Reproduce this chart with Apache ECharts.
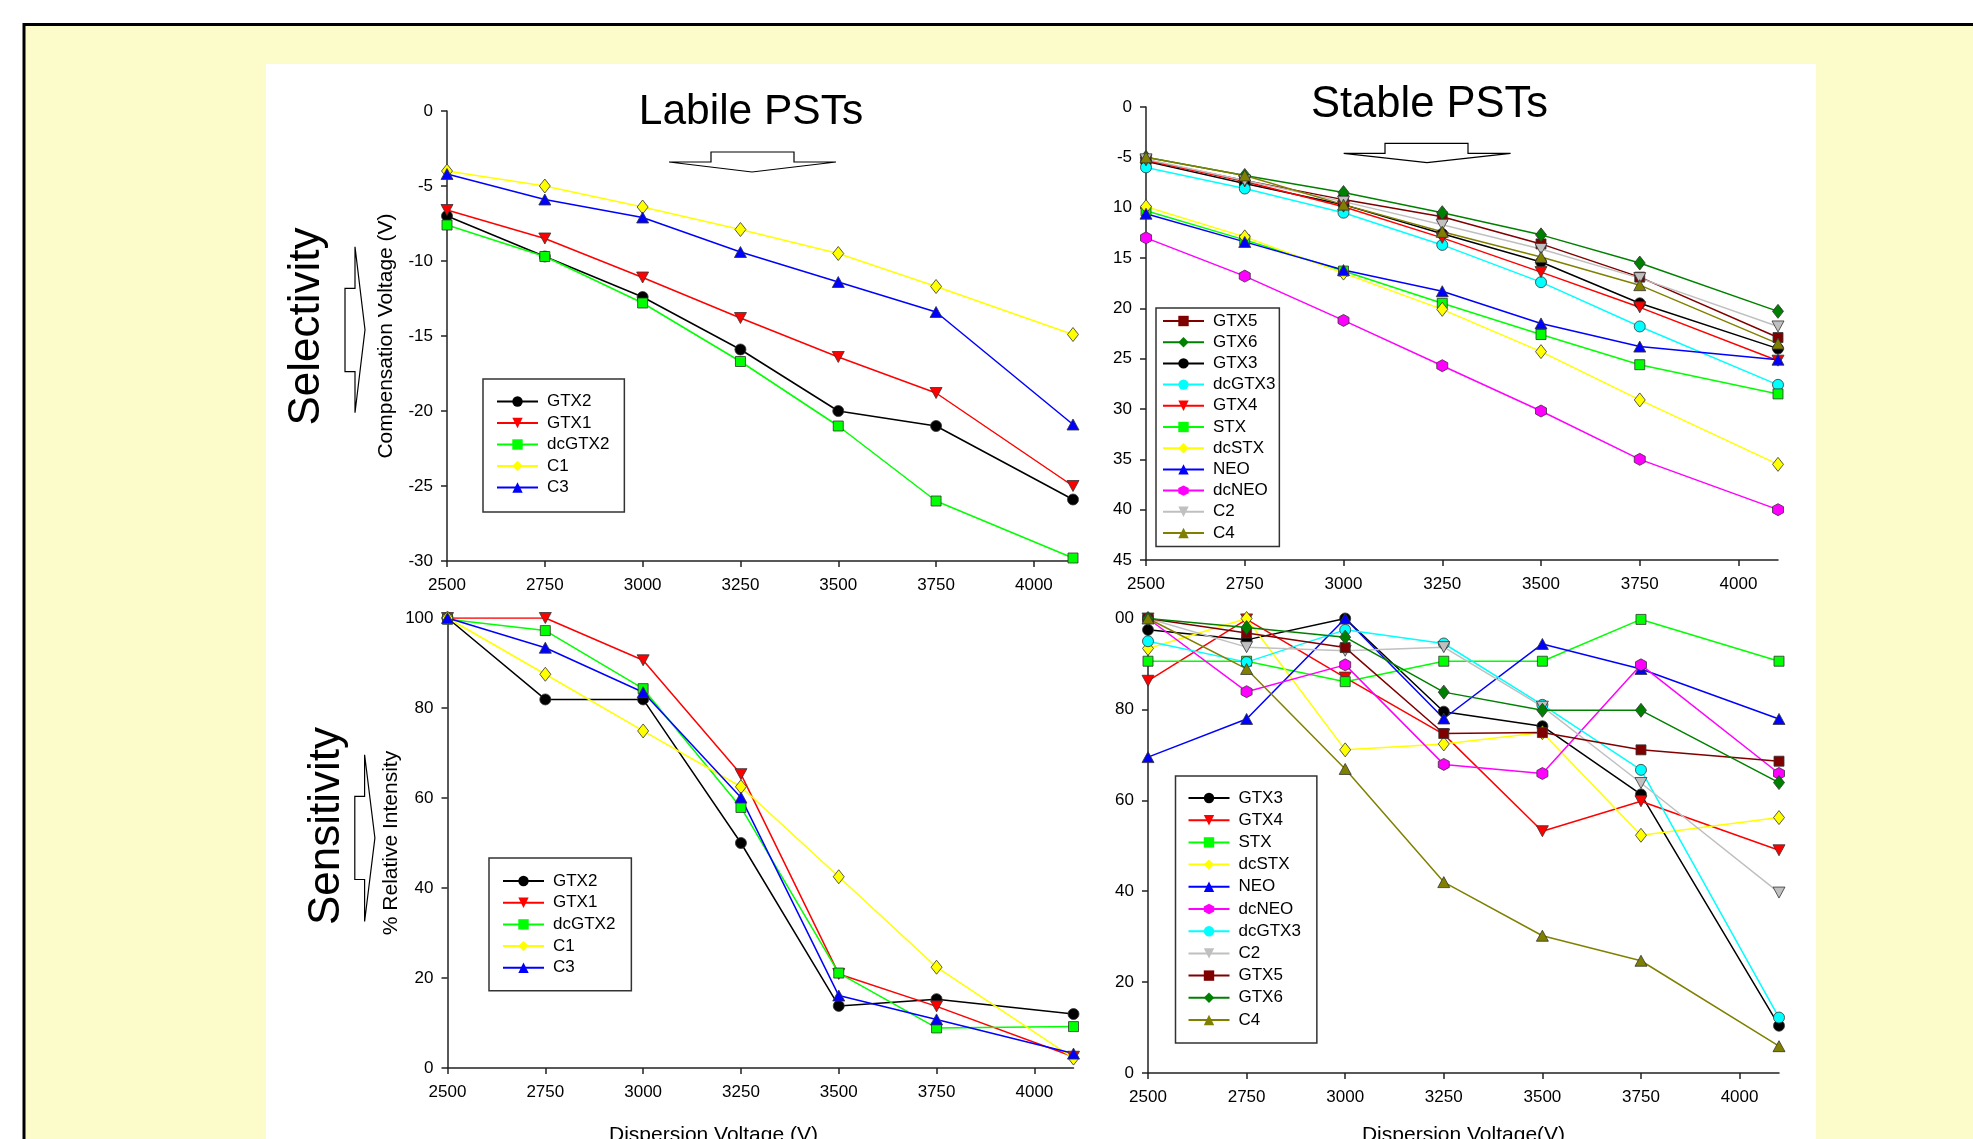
<!DOCTYPE html>
<html>
<head>
<meta charset="utf-8">
<title>Labile and Stable PSTs</title>
<script src="https://cdn.jsdelivr.net/npm/echarts@6/dist/echarts.min.js"></script>
<style>
  html, body { margin: 0; padding: 0; background: #fff; }
  #chart { width: 1973px; height: 1139px; }
</style>
</head>
<body>
<div id="chart"></div>
<script>
// dispersion voltage (V), same for every panel
var volts = [2500, 2750, 3000, 3250, 3500, 3750, 4100];
var voltTicks = [2500, 2750, 3000, 3250, 3500, 3750, 4000];

// y ticks and the labels as they are printed
var cvLabileTicks = [0, -5, -10, -15, -20, -25, -30];
var cvLabileLabels = ['0', '-5', '-10', '-15', '-20', '-25', '-30'];
var cvStableTicks = [0, -5, -10, -15, -20, -25, -30, -35, -40, -45];
var cvStableLabels = ['0', '-5', '10', '15', '20', '25', '30', '35', '40', '45'];
var riTicks = [0, 20, 40, 60, 80, 100];
var riLabileLabels = ['0', '20', '40', '60', '80', '100'];
var riStableLabels = ['0', '20', '40', '60', '80', '00'];

// compensation voltage (V), labile PSTs
var cvGTX2   = [-7.0, -9.7, -12.4, -15.9, -20.0, -21.0, -25.9];
var cvGTX1   = [-6.6, -8.5, -11.1, -13.8, -16.4, -18.8, -25.0];
var cvDcGTX2 = [-7.6, -9.7, -12.8, -16.7, -21.0, -26.0, -29.8];
var cvC1     = [-4.0, -5.0, -6.4, -7.9, -9.5, -11.7, -14.9];
var cvC3     = [-4.2, -5.9, -7.1, -9.4, -11.4, -13.4, -20.9];

// compensation voltage (V), stable PSTs
var cvGTX5   = [-5.3, -7.3, -9.2, -10.9, -13.6, -16.9, -22.9];
var cvGTX6   = [-5.0, -6.8, -8.5, -10.5, -12.7, -15.5, -20.3];
var cvGTX3   = [-5.4, -7.6, -9.7, -12.6, -15.4, -19.5, -24.0];
var cvDcGTX3 = [-6.0, -8.1, -10.5, -13.7, -17.4, -21.8, -27.6];
var cvGTX4   = [-5.3, -7.4, -9.9, -13.0, -16.4, -19.9, -25.2];
var cvSTX    = [-10.3, -13.2, -16.3, -19.5, -22.6, -25.6, -28.5];
var cvDcSTX  = [-9.9, -12.9, -16.5, -20.1, -24.3, -29.1, -35.5];
var cvNEO    = [-10.6, -13.4, -16.2, -18.3, -21.5, -23.8, -25.1];
var cvDcNEO  = [-13.0, -16.8, -21.2, -25.7, -30.2, -35.0, -40.0];
var cvC2     = [-5.2, -7.3, -9.4, -11.7, -14.1, -17.0, -21.8];
var cvC4     = [-5.0, -6.8, -9.7, -12.4, -14.9, -17.7, -23.5];

// % relative intensity, labile PSTs
var riGTX2   = [100, 81.9, 81.9, 50.0, 13.8, 15.3, 12.0];
var riGTX1   = [100, 100, 90.6, 65.3, 20.9, 13.7, 2.5];
var riDcGTX2 = [99.7, 97.2, 84.3, 57.9, 21.1, 8.9, 9.2];
var riC1     = [100, 87.5, 74.9, 62.5, 42.5, 22.4, 2.2];
var riC3     = [100, 93.4, 83.5, 60.1, 16.1, 10.8, 3.2];

// % relative intensity, stable PSTs
var riGTX3   = [97.5, 95.3, 100, 79.5, 76.3, 61.3, 10.4];
var riGTX4   = [86.3, 99.8, 87.0, 74.5, 53.2, 59.8, 49.0];
var riSTX    = [90.6, 90.6, 86.1, 90.6, 90.6, 99.8, 90.6];
var riDcSTX  = [93.4, 100, 71.1, 72.4, 74.9, 52.3, 56.2];
var riNEO    = [69.5, 77.9, 100, 78.0, 94.4, 88.9, 77.9];
var riDcNEO  = [100, 83.9, 89.8, 67.9, 65.9, 89.8, 65.9];
var riDcGTX3 = [95.0, 90.4, 97.5, 94.5, 81.0, 66.7, 12.2];
var riC2     = [100, 93.7, 92.9, 93.7, 80.6, 63.8, 39.7];
var riGTX5   = [100, 96.8, 93.6, 74.7, 74.9, 71.1, 68.6];
var riGTX6   = [100, 98.0, 95.9, 83.8, 79.8, 79.8, 63.9];
var riC4     = [100, 88.9, 66.9, 42.0, 30.2, 24.7, 5.9];

var FONT = '"Liberation Sans", Arial, Helvetica, sans-serif';

var SYM = {
  circle:   ['circle', 11],
  down:     ['path://M0,0L12,0L6,10Z', [12, 11]],
  up:       ['path://M6,0L12,10L0,10Z', [12, 11]],
  rect:     ['rect', 10],
  diamond:  ['diamond', [11, 14]],
  hex:      ['path://M0,-10L8.66,-5L8.66,5L0,10L-8.66,5L-8.66,-5Z', [11, 12]]
};

var look = {
  GTX2:   ['#000000', 'circle'],
  GTX1:   ['#ff0000', 'down'],
  dcGTX2: ['#00ff00', 'rect'],
  C1:     ['#ffff00', 'diamond'],
  C3:     ['#0000ff', 'up'],
  GTX5:   ['#800000', 'rect'],
  GTX6:   ['#008000', 'diamond'],
  GTX3:   ['#000000', 'circle'],
  dcGTX3: ['#00ffff', 'circle'],
  GTX4:   ['#ff0000', 'down'],
  STX:    ['#00ff00', 'rect'],
  dcSTX:  ['#ffff00', 'diamond'],
  NEO:    ['#0000ff', 'up'],
  dcNEO:  ['#ff00ff', 'hex'],
  C2:     ['#c0c0c0', 'down'],
  C4:     ['#808000', 'up']
};

function line(name, values, idx) {
  var c = look[name][0], s = SYM[look[name][1]];
  return {
    name: name,
    type: 'line',
    xAxisIndex: idx,
    yAxisIndex: idx,
    data: values.map(function (v, i) { return [volts[i], v]; }),
    symbol: s[0],
    symbolSize: s[1],
    showAllSymbol: true,
    lineStyle: { color: c, width: 1.5 },
    itemStyle: { color: c, borderColor: '#333', borderWidth: 0.8 },
    emphasis: { disabled: true },
    z: 3
  };
}

var labelFont = { fontFamily: FONT, fontSize: 17, color: '#000' };
var axisCol = '#222';

function xAxis(idx, name, gap, pad) {
  return {
    type: 'value', gridIndex: idx, min: 2500, max: 4100,
    axisLine: { onZero: false, lineStyle: { color: axisCol, width: 1.5 } },
    axisTick: { customValues: voltTicks, length: 6, lineStyle: { color: axisCol, width: 1.5 } },
    axisLabel: Object.assign({
      customValues: voltTicks, margin: 16,
      formatter: function (v) { return String(v); }
    }, labelFont),
    splitLine: { show: false },
    name: name, nameLocation: 'middle', nameGap: gap,
    nameTextStyle: { fontFamily: FONT, fontSize: 21, color: '#000', padding: pad }
  };
}

function yAxis(idx, min, max, ticks, labels, name, gap) {
  return {
    type: 'value', gridIndex: idx, min: min, max: max,
    axisLine: { show: true, onZero: false, lineStyle: { color: axisCol, width: 1.5 } },
    axisTick: { show: true, customValues: ticks, length: 6, lineStyle: { color: axisCol, width: 1.5 } },
    axisLabel: Object.assign({
      customValues: ticks, margin: 14,
      formatter: function (v) { var k = ticks.indexOf(v); return k < 0 ? '' : labels[k]; }
    }, labelFont),
    splitLine: { show: false },
    name: name, nameLocation: 'middle', nameGap: gap,
    nameTextStyle: { fontFamily: FONT, fontSize: 21, color: '#000' }
  };
}

function legend(names, left, top, pad, gap) {
  return {
    data: names, orient: 'vertical', left: left, top: top,
    padding: pad, itemGap: gap, itemWidth: 41, itemHeight: 13,
    borderColor: '#333', borderWidth: 1.5, backgroundColor: '#fff',
    selectedMode: false,
    itemStyle: { borderWidth: 0 },
    textStyle: { fontFamily: FONT, fontSize: 17, lineHeight: 17, color: '#000', padding: [0, 0, 0, 4] }
  };
}

var chart = echarts.init(document.getElementById('chart'), null, { renderer: 'canvas' });

var option = {
  animation: false,
  backgroundColor: '#ffffff',
  grid: [
    { left: 447, top: 111, width: 626, height: 450, outerBoundsMode: 'none' },
    { left: 1146, top: 107, width: 632, height: 453, outerBoundsMode: 'none' },
    { left: 447.5, top: 618, width: 626, height: 450, outerBoundsMode: 'none' },
    { left: 1148, top: 618.5, width: 631, height: 454.5, outerBoundsMode: 'none' }
  ],
  xAxis: [
    xAxis(0, '', 0, 0),
    xAxis(1, '', 0, 0),
    xAxis(2, 'Dispersion Voltage (V)', 57, [0, 94, 0, 0]),
    xAxis(3, 'Dispersion Voltage(V)', 52, 0)
  ],
  yAxis: [
    yAxis(0, -30, 0, cvLabileTicks, cvLabileLabels, 'Compensation Voltage (V)', 50),
    yAxis(1, -45, 0, cvStableTicks, cvStableLabels, '', 0),
    yAxis(2, 0, 100, riTicks, riLabileLabels, '% Relative Intensity', 45),
    yAxis(3, 0, 100, riTicks, riStableLabels, '', 0)
  ],
  legend: [
    legend(['GTX2', 'GTX1', 'dcGTX2', 'C1', 'C3'], 483, 379, [14, 15, 16, 13], 4.5),
    legend(['GTX5', 'GTX6', 'GTX3', 'dcGTX3', 'GTX4', 'STX', 'dcSTX', 'NEO', 'dcNEO', 'C2', 'C4'],
      1156, 308, [4.5, 4, 5, 6], 4.2),
    legend(['GTX2', 'GTX1', 'dcGTX2', 'C1', 'C3'], 489, 858, [14.5, 16, 14.5, 13], 4.7),
    legend(['GTX3', 'GTX4', 'STX', 'dcSTX', 'NEO', 'dcNEO', 'dcGTX3', 'C2', 'GTX5', 'GTX6', 'C4'],
      1175.5, 776, [13.5, 16, 14.5, 12], 5.2)
  ],
  graphic: [
    // yellow page with black frame, white plotting panel
    { type: 'rect', z: -10, shape: { x: 24, y: 24.5, width: 2100, height: 1300 },
      style: { fill: '#fbfcca', stroke: '#000', lineWidth: 3 } },
    { type: 'rect', z: -9, shape: { x: 266, y: 64, width: 1550, height: 1200 },
      style: { fill: '#ffffff' } },
    // titles
    { type: 'text', z: 5, x: 751, y: 112.5,
      style: { text: 'Labile PSTs', fontFamily: FONT, fontSize: 42.5, fill: '#000', align: 'center', verticalAlign: 'middle' } },
    { type: 'text', z: 5, x: 1429.5, y: 104.5,
      style: { text: 'Stable PSTs', fontFamily: FONT, fontSize: 43.5, fill: '#000', align: 'center', verticalAlign: 'middle' } },
    { type: 'text', z: 5, x: 307, y: 326.5, rotation: Math.PI / 2,
      style: { text: 'Selectivity', fontFamily: FONT, fontSize: 44, fill: '#000', align: 'center', verticalAlign: 'middle' } },
    { type: 'text', z: 5, x: 327, y: 826, rotation: Math.PI / 2,
      style: { text: 'Sensitivity', fontFamily: FONT, fontSize: 44, fill: '#000', align: 'center', verticalAlign: 'middle' } },
    // hollow arrows
    { type: 'polygon', z: 5,
      shape: { points: [[711, 152], [794, 152], [794, 162], [836, 162], [752, 172], [669, 162], [711, 162]] },
      style: { fill: 'none', stroke: '#000', lineWidth: 1.2 } },
    { type: 'polygon', z: 5,
      shape: { points: [[1385, 143.3], [1468, 143.3], [1468, 153.3], [1510.6, 153.3], [1427, 162.7], [1343.7, 153.3], [1385, 153.3]] },
      style: { fill: 'none', stroke: '#000', lineWidth: 1.2 } },
    { type: 'polygon', z: 5,
      shape: { points: [[345, 288.3], [355, 288.3], [355, 246.7], [365, 329.7], [355, 412.7], [355, 371.7], [345, 371.7]] },
      style: { fill: 'none', stroke: '#000', lineWidth: 1.2 } },
    { type: 'polygon', z: 5,
      shape: { points: [[354.8, 796.4], [364.6, 796.4], [364.6, 754.7], [374.9, 838], [364.6, 921.5], [364.6, 879.5], [354.8, 879.5]] },
      style: { fill: 'none', stroke: '#000', lineWidth: 1.2 } }
  ],
  series: [
    line('GTX2', cvGTX2, 0),
    line('GTX1', cvGTX1, 0),
    line('dcGTX2', cvDcGTX2, 0),
    line('C1', cvC1, 0),
    line('C3', cvC3, 0),

    line('GTX5', cvGTX5, 1),
    line('GTX6', cvGTX6, 1),
    line('GTX3', cvGTX3, 1),
    line('dcGTX3', cvDcGTX3, 1),
    line('GTX4', cvGTX4, 1),
    line('STX', cvSTX, 1),
    line('dcSTX', cvDcSTX, 1),
    line('NEO', cvNEO, 1),
    line('dcNEO', cvDcNEO, 1),
    line('C2', cvC2, 1),
    line('C4', cvC4, 1),

    line('GTX2', riGTX2, 2),
    line('GTX1', riGTX1, 2),
    line('dcGTX2', riDcGTX2, 2),
    line('C1', riC1, 2),
    line('C3', riC3, 2),

    line('GTX3', riGTX3, 3),
    line('GTX4', riGTX4, 3),
    line('STX', riSTX, 3),
    line('dcSTX', riDcSTX, 3),
    line('NEO', riNEO, 3),
    line('dcNEO', riDcNEO, 3),
    line('dcGTX3', riDcGTX3, 3),
    line('C2', riC2, 3),
    line('GTX5', riGTX5, 3),
    line('GTX6', riGTX6, 3),
    line('C4', riC4, 3)
  ]
};

chart.setOption(option);
window.addEventListener('resize', function () { chart.resize(); });
</script>
</body>
</html>
